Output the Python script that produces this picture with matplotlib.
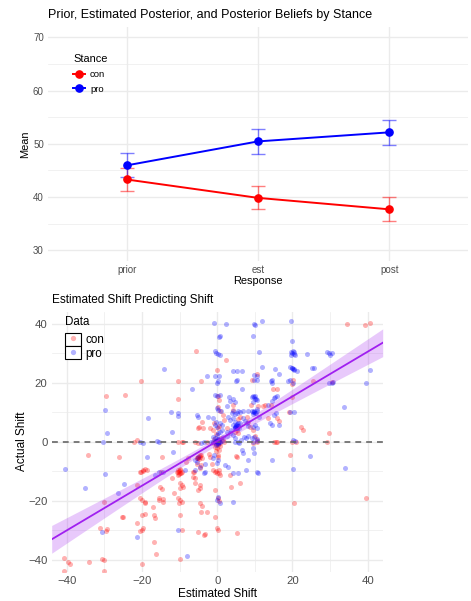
import numpy as np
import matplotlib
matplotlib.use("Agg")
import matplotlib.pyplot as plt
from matplotlib.lines import Line2D
from matplotlib.patches import Rectangle
from matplotlib.legend_handler import HandlerTuple

plt.rcParams['font.family'] = ['Liberation Sans', 'DejaVu Sans']

# ---------------- data: top panel ----------------
responses = ["prior", "est", "post"]
con_mean = [43.3, 39.85, 37.7]
con_se = [2.25, 2.15, 2.25]
pro_mean = [45.95, 50.45, 52.15]
pro_se = [2.25, 2.35, 2.4]
y_ticks_top = [30, 40, 50, 60, 70]

# ---------------- data: bottom panel ----------------
con_est = [34.4, 39.3, 40.6, -5.7, 2.3, -0.1, -20.2, -10.3, -4.4, -29.5, -24.5, -10.3, 0.3, 0.6, 9.2, 10.5, 14.9, 15.8, 12.7, 12.3,
           20.0, 20.2, 19.8, 19.0, 25.4, 30.6, 22.2, 22.9, 29.7, 29.3, 19.8, 21.0, 15.5, 19.3, 20.3, 39.6, -34.4, -26.0, -30.0, -25.0,
           -25.2, -31.1, -29.2, -29.5, -40.6, -39.7, -39.1, -34.2, -30.5, -30.0, -30.2, -40.8, -20.1, -22.0, -21.4,
           -20.5, -19.6, -19.2, -18.7, -21.4, -20.5, -20.0, -19.3, -19.2, -21.4, -20.1, -19.2, -20.6, -20.1, -19.6,
           -17.0, -16.8, -16.5, -16.8, -16.3, -15.6, -15.4, -14.5, -14.3, -15.2, -14.7, -14.8, -15.0, -12.1, -11.6,
           -10.6, -10.3, -9.8, -10.5, -9.4, -10.1, -9.9, -10.0, -9.4, -9.1, -9.8, -10.3, -9.8, -9.4, -10.1, -10.0, -9.4, -10.0,
           -10.3, -9.4, -9.0, -5.9, -5.0, -8.3, -7.7, -6.4, -6.2, -6.0, -4.6,
           -4.8, -5.0, -4.6, -4.1, -5.4, -4.4, -5.4, -4.3, -4.5, -5.0, -4.9, -3.7, -4.1, -6.4, -5.9, -4.5, -5.0, -4.5, -4.1,
           -4.3, -2.8, -5.0, -3.5, -3.3, -2.8, -2.1, -1.9, -1.9, -1.0, -0.8, -1.5, -1.0,
           -0.6, -0.1, 0.6, 0.8, -0.6, -0.6, 0.3, -0.1, 0.3, 0.6, -1.0, -0.6, -0.1, 0.3, 0.75, -0.3, 0.1, 0.3, 1.5, 1.8, 1.8,
           2.5, 3.4, 3.8, 4.7, 5.3, 5.6, 5.0, 5.2, 5.3, 6.0, 4.3, 6.1, 5.5, 7.9, 8.3, 8.7, 9.6, 10.1, 8.9, 10.9, 13.6, 14.2,
           15.8, 16.3, 15.1, 15.8, 10.5, 10.7, 9.6,
           0.5, -0.4, 0.2, 1.0, -0.8, 0.1, 0.4, -0.2, 0.3, 0.7, 4.3, 1.5,
           -0.2, 0.2, 0.6, -0.5, 0.0, 0.4, -0.3, 0.8, -10.2, -9.7, -10.4, -9.9, -5.2, -4.7, -4.9, -5.3, -0.2, 0.4, -19.8, -20.3]
con_act = [40.0, 39.4, 40.2, 30.6, 27.8, 24.2, 20.5, 20.5, 20.5, 15.4, 15.7, 14.3, 15.4, 14.0, 20.8, 22.9, 17.7, 17.7, 12.4, 12.2,
           15.2, 20.8, 19.4, 10.1, 20.6, 20.3, 5.1, 3.9, 2.8, -0.2, 0.0, 0.0, 0.0, -4.5, -20.8, -19.2, -4.5, -5.3, -20.5, -25.4,
           -25.6, -29.1, -29.6, -30.2, -39.4, -40.6, -41.3, -40.6, -39.8, -40.2, -43.8, -43.8, -41.3, 0.0, 0.6,
           -10.1, -9.6, -9.2, -9.6, -14.6, -19.2, -19.7, -20.8, -20.5, -27.6, -24.8, -24.5, -30.2, -29.9, -29.1,
           -22.0, -24.8, -25.7, -34.0, -38.0, -19.2, -19.7, -19.4, -20.5, -15.2, -16.1, -5.1, -10.1, -12.4, -17.5,
           -10.1, -9.6, -10.7, -11.3, -10.4, -11.0, -9.4, -14.1, -14.6, -15.2, -15.8, -19.2, -19.7, -20.5, -20.8, -24.8, -30.0, -39.8,
           0.0, 0.0, 0.0, 0.0, -0.3, -6.8, -5.4, -10.4, -10.1, -14.1, -14.6,
           -4.8, -5.6, -5.1, -5.6, -5.4, -4.5, -7.4, -7.9, -9.0, 4.5, 5.1, 4.8, 6.8, -11.8, -12.4, -15.8, -16.3, -20.8, -21.9,
           -23.9, -23.9, -30.4, -31.5, -31.3, 0.0, -4.0, -5.1, 4.5, 3.9, 6.4, -7.4, -9.6,
           -10.1, -10.7, -9.6, -11.3, -16.3, -25.4, -29.9, -29.3, -19.2, -20.0, -0.6, -1.7, 0.0, 0.6, -0.6, -0.8, -5.1, -4.5, 0.6, 0.0, 7.3,
           4.8, -11.3, -15.2, 3.4, 3.9, 3.0, -4.8, -5.1, -31.0, -13.9, 10.7, 8.5, 7.6, 8.5, 6.8, 5.1, 3.9, 1.9, 12.4, 12.1, 7.9, 12.4,
           7.9, 7.0, 0.0, 0.0, 0.0, 0.6, -0.6,
           0.3, 0.4, -1.2, 1.2, 1.0, 4.8, 5.4, 2.5, 11.8, 10.5, 12.4, 9.0,
           0.2, -0.4, 0.5, -0.1, -2.2, -2.8, -3.3, -1.5, -9.8, -10.5, -10.2, -9.5, -5.2, -4.6, -6.0, -5.5, -9.9, -10.6, -9.8, -10.3]

pro_est = [-0.8, 2.3, 9.9, 10.1, 12.0, 19.5, 0.7, 0.5, 9.4, 19.9, -0.6, -0.3, 0.1, 0.7, 11.0, 19.5, 20.1, 20.5, 20.7, 19.6,
           23.8, 29.1, 29.6, 30.0, 30.5, 4.1, 5.2, -14.1, 11.8, 15.4, 16.3, 19.4, 19.8, 20.1, 20.4, 21.3, 25.1, 25.7, 9.8, 10.5,
           6.5, 0.6, -0.6, -2.8, -0.1, 0.3, 4.9, 5.2, 9.8, 10.5, 14.2, 14.5, 14.7, 18.7, 19.4, 20.1, 29.8, 30.4, 30.9, 39.6,
           40.5, -6.6, -0.6, -0.1, 0.8, 6.7, 3.2, 3.4, 4.3, 4.7, 9.2, 9.6, 10.1, 10.5, 9.6, 15.8, 15.4, 15.1, 14.5, 13.4,
           2.5, 4.3, 3.9, 5.2, 4.7, 5.6, 9.2, 9.6, 10.1, 10.5, 9.6, 10.7, -0.1, 0.3, 0.9, 6.0, 6.9, 8.3, 19.4, 20.5,
           33.8, -12.4, -10.5, -10.5, -5.5, -5.0, -2.4, -18.3, -29.7, -29.4, -30.4, -20.6, -19.8, -16.0, -15.6, -12.1,
           -1.0, -0.3, -0.6, 0.0, 0.75, 1.2, 2.9, 3.4, 4.3, 4.7, 4.3, 4.7, 5.2, 5.6, 5.4, 5.9, 5.0, 6.0, 6.9, 7.4, 7.9, 8.3,
           9.6, 10.1, 10.7, 11.0, 14.0, 14.5, 16.5, 15.1, 15.5, 2.5, 3.4, 3.8, 4.3, 4.7, 7.0, 7.7, 8.3, 9.2, 9.8, 10.5,
           4.7, 5.4, 5.9, 6.2, 9.6, 10.5, 20.1, 20.7, 0.75, 1.2, 1.6, 2.5, -1.0, -0.6, -0.1, 0.3, -1.7, -1.0, -0.6, -0.1,
           0.3, 0.75, 1.2, -0.3, 0.1, 0.6, -3.5, -4.4, 6.5, 9.6, 6.8, 8.3, 9.8, 14.7, 24.8, 34.0, 20.2, 7.7, 10.5, 10.8,
           5.6, 4.3, 2.1, 3.0, 0.3, -0.1, -1.0, -0.8, -6.0, -5.5, -5.0, -4.6, -3.2, -3.6, -3.2, -5.9, -8.6, -11.8, -14.5,
           -15.4, -16.5, -18.7, -24.7, -29.7, -35.1, -40.4, -26.5, -30.5, -21.2, -10.3, -8.1, -0.1, 0.1, 4.3, 0.75,
           0.0, 0.3, -0.4, 0.5, 0.1, -0.2, 4.8, 5.3, 5.0, 4.6, 5.5, 5.1, 9.8, 10.2, 9.9, 10.4, 9.7, 10.1, 20.0, 20.3, 19.8, 20.4]
pro_act = [40.3, 39.9, 39.7, 39.4, 40.8, 40.9, 35.7, 35.3, 35.8, 34.1, 30.6, 29.9, 29.6, 29.3, 30.3, 30.3, 30.8, 30.2, 29.4, 29.4,
           29.6, 30.4, 29.9, 29.3, 29.9, 24.0, 24.0, 24.6, 25.4, 24.6, 22.9, 25.4, 25.0, 24.5, 24.2, 24.0, 24.8, 25.0, 22.5, 22.1,
           23.8, 22.1, 22.4, 22.1, 19.9, 20.6, 20.6, 20.8, 20.8, 20.8, 20.5, 21.0, 19.7, 20.5, 21.0, 19.7, 20.0, 19.9, 20.3, 19.9,
           24.1, 18.0, 15.9, 15.4, 15.7, 17.7, 15.0, 13.9, 14.6, 13.5, 15.2, 15.5, 14.6, 14.1, 13.5, 15.3, 15.1, 14.8, 13.8, 12.4,
           12.0, 10.5, 9.6, 9.8, 9.4, 10.5, 10.5, 10.1, 9.6, 10.9, 9.3, 10.3, 11.3, 10.7, 10.4, 10.1, 10.5, 10.5, 10.1, 10.1,
           11.8, 10.1, 9.8, 8.7, 9.0, 8.5, 8.5, 7.9, 10.6, 2.8, 0.0, 0.0, -0.3, 0.2, 0.0, 3.4,
           7.9, 6.8, 5.6, 5.1, 6.2, 5.6, 8.5, 7.3, 7.9, 6.8, 5.6, 5.1, 6.0, 5.3, 6.4, 4.8, 4.5, 6.2, 7.9, 7.0, 6.2, 5.3,
           5.1, 5.6, 4.8, 8.5, 6.2, 5.6, 5.6, 9.0, 9.6, 3.4, 2.8, 3.9, 2.3, 1.1, 1.7, 1.1, 2.0, 1.1, 1.7, 0.9,
           0.0, 0.0, -0.3, 0.6, 0.0, 0.3, 0.6, 0.3, 3.4, 3.9, 1.7, 1.9, 1.7, 1.1, 2.3, 2.8, 0.0, 0.0, 0.3, 0.6,
           0.0, 0.0, 0.3, -0.3, -0.8, 0.8, 0.0, -0.6, -2.8, -2.3, -3.9, -6.2, -3.9, -6.2, -4.7, -9.0, -9.4, -9.6, -10.1, -10.5,
           -10.5, -10.7, -7.9, -8.5, -6.2, -7.3, -5.6, -4.5, -6.2, -6.8, -5.1, -8.5, -7.6, -10.7, -10.1, -9.6, -9.6, -3.6, -10.1,
           -10.4, -11.3, -5.1, -14.3, -10.9, -15.8, -9.2, -17.3, -30.4, -32.3, -30.0, -38.8, -19.7, -18.8, -20.5, -20.8,
           0.1, -0.3, 0.4, 0.0, 1.0, -1.0, 5.0, 4.7, 5.4, 4.5, 5.2, 5.8, 10.0, 9.6, 15.0, 14.6, 10.4, 15.4, 30.0, 29.6, 25.0, 24.6]

# fitted regression
fit_intercept = 0.22
fit_slope = 0.756
ci_half_center = 1.3
ci_half_edge = 4.7
x_ticks_bot = [-40, -20, 0, 20, 40]
y_ticks_bot = [-40, -20, 0, 20, 40]

# ---------------- figure ----------------
W, H = 471, 601
fig = plt.figure(figsize=(W / 100, H / 100), dpi=100)

def px_axes(l, t, r, b):
    return fig.add_axes([l / W, 1 - b / H, (r - l) / W, (b - t) / H])

GRID = '#EBEBEB'
TICKC = '#4D4D4D'

# ---- top panel ----
ax1 = px_axes(48, 26.6, 468, 261)
ax1.set_xlim(0.4, 3.6)
ax1.set_ylim(28, 72)
xpos = np.arange(1, len(responses) + 1)
for yv in [35, 45, 55, 65]:
    ax1.axhline(yv, color=GRID, lw=0.5, zorder=0)
for yv in y_ticks_top:
    ax1.axhline(yv, color=GRID, lw=1.0, zorder=0)
for xv in xpos:
    ax1.axvline(xv, color=GRID, lw=1.0, zorder=0)

for mean, se, col in [(con_mean, con_se, '#FF0000'), (pro_mean, pro_se, '#0000FF')]:
    ax1.errorbar(xpos, mean, yerr=se, fmt='none', ecolor=col, alpha=0.5,
                 elinewidth=1.0, capsize=4.8, capthick=1.0, zorder=2)
    ax1.plot(xpos, mean, color=col, lw=1.4, marker='o', ms=5.2, zorder=3)

ax1.set_xticks(xpos)
ax1.set_xticklabels(responses)
ax1.set_yticks(y_ticks_top)
ax1.tick_params(length=0, labelsize=7.0, labelcolor=TICKC, pad=3)
for s in ax1.spines.values():
    s.set_visible(False)

h_con = Line2D([], [], color='#FF0000', lw=1.4, marker='o', ms=5.2)
h_pro = Line2D([], [], color='#0000FF', lw=1.4, marker='o', ms=5.2)
leg1 = ax1.legend([h_con, h_pro], ['con', 'pro'], title='Stance', loc='upper left',
                  bbox_to_anchor=((73 - 48) / 434.4 * 1.0343, 1 - (54 - 26.6) / 234.4),
                  frameon=False, fontsize=6.8, title_fontsize=7.9, handlelength=1.3,
                  handletextpad=0.5, labelspacing=0.62, borderpad=0, borderaxespad=0,
                  alignment='left')

fig.text(48 / W, 1 - 15 / H, "Prior, Estimated Posterior, and Posterior Beliefs by Stance",
         fontsize=9, ha='left', va='center')
fig.text(257.5 / W, 1 - 280.5 / H, "Response", fontsize=7.9, ha='center', va='center')
fig.text(25 / W, 1 - 144 / H, "Mean", fontsize=7.9, ha='center', va='center', rotation=90)

# ---- bottom panel ----
ax2 = px_axes(51.7, 311.7, 382.7, 571.7)
ax2.set_xlim(-44, 44)
ax2.set_ylim(-44, 44)
for v in [-30, -10, 10, 30]:
    ax2.axhline(v, color=GRID, lw=0.5, zorder=0)
    ax2.axvline(v, color=GRID, lw=0.5, zorder=0)
for v in x_ticks_bot:
    ax2.axvline(v, color=GRID, lw=1.0, zorder=0)
for v in y_ticks_bot:
    ax2.axhline(v, color=GRID, lw=1.0, zorder=0)

ax2.scatter(con_est, con_act, s=13, color='#FF0000', alpha=0.3, linewidths=0, zorder=2)
ax2.scatter(pro_est, pro_act, s=13, color='#0000FF', alpha=0.3, linewidths=0, zorder=2)
ax2.axhline(0, color='#666666', lw=1.2, ls=(0, (3.5, 3)), zorder=3)

xs = np.linspace(-44, 44, 200)
yfit = fit_intercept + fit_slope * xs
half = np.sqrt(ci_half_center ** 2 + (ci_half_edge ** 2 - ci_half_center ** 2) * (xs / 44) ** 2)
ax2.fill_between(xs, yfit - half, yfit + half, color='#A020F0', alpha=0.24, lw=0, zorder=4)
ax2.plot(xs, yfit, color='#A020F0', lw=1.3, zorder=5)

ax2.set_xticks(x_ticks_bot)
ax2.set_yticks(y_ticks_bot)
ax2.tick_params(length=0, labelsize=8.2, labelcolor=TICKC, pad=3)
for s in ax2.spines.values():
    s.set_visible(False)

def keybox():
    return Rectangle((0, 0), 1, 1, facecolor='white', edgecolor='black', lw=0.8)

k_con = Line2D([], [], ls='none', marker='o', ms=3.8, color='#FF0000', alpha=0.3, mew=0)
k_pro = Line2D([], [], ls='none', marker='o', ms=3.8, color='#0000FF', alpha=0.3, mew=0)
leg2 = ax2.legend([(keybox(), k_con), (keybox(), k_pro)], ['con', 'pro'], title='Data',
                  handler_map={tuple: HandlerTuple(ndivide=1)},
                  loc='upper left', bbox_to_anchor=((65 - 51.7) / 331, 1 - (316 - 311.7) / 260),
                  frameon=False, fontsize=8.4, title_fontsize=8.3, handlelength=1.35,
                  handleheight=1.35, handletextpad=0.4, labelspacing=0.0, borderpad=0,
                  borderaxespad=0, alignment='left')
leg2._legend_box.sep = 3.5
leg2.set_zorder(10)

fig.text(52 / W, 1 - 300.5 / H, "Estimated Shift Predicting Shift", fontsize=8.5, ha='left', va='center')
fig.text(217.5 / W, 1 - 594 / H, "Estimated Shift", fontsize=8.5, ha='center', va='center')
fig.text(22 / W, 1 - 441.6 / H, "Actual Shift", fontsize=8.5, ha='center', va='center', rotation=90)

fig.savefig("out.png", dpi=100)
